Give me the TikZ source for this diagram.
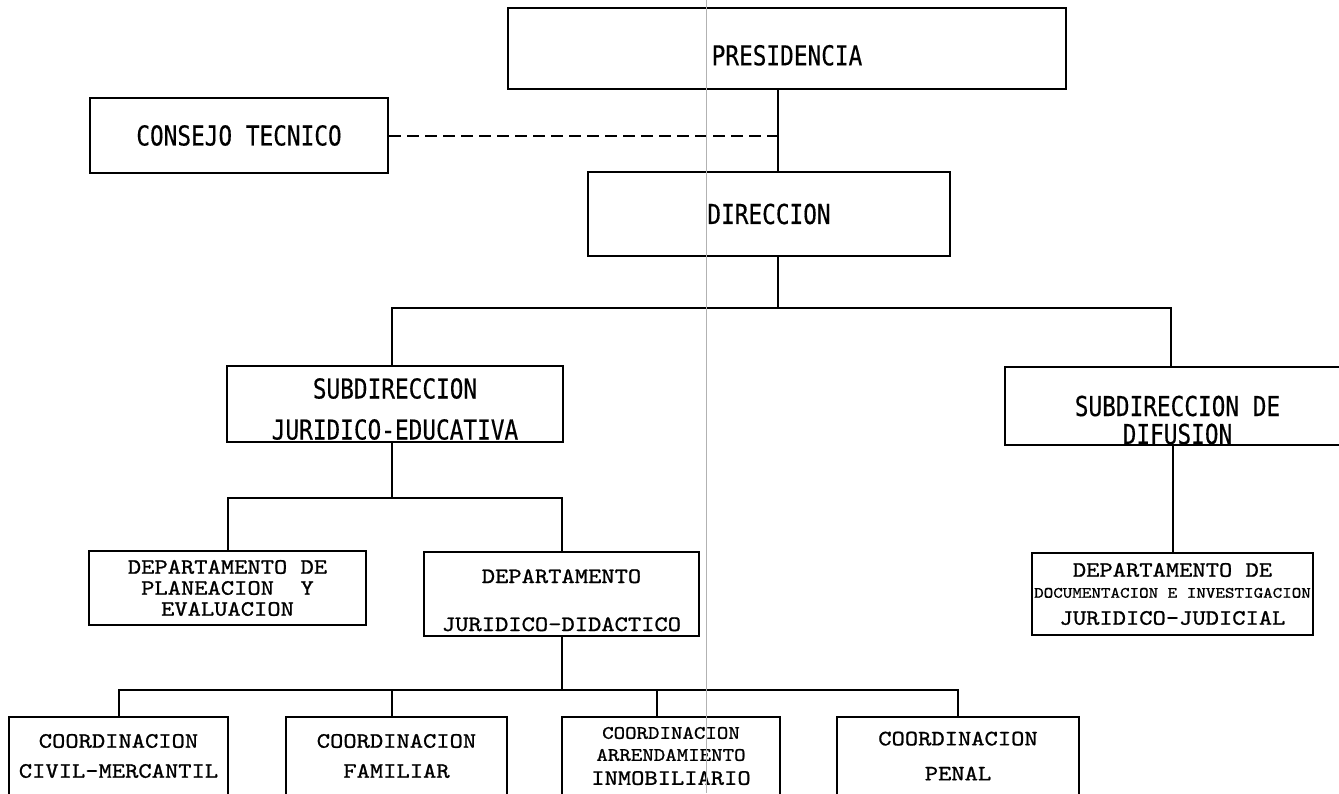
\documentclass[tikz,border=0pt]{standalone}
\usepackage{fontspec}
\usetikzlibrary{positioning, calc}
\newfontfamily\typeup[FakeStretch=0.83, FakeBold=0.4]{DejaVu Sans Mono}
\newfontfamily\typelow{lmmono10-regular.otf}[FakeStretch=1.15, FakeBold=1]

\begin{document}
\begin{tikzpicture}[x=0.5pt,y=-0.5pt,
  upbox/.style={draw, line width=1.2pt, rectangle, inner sep=0pt, align=center,
    font=\typeup\fontsize{13.7}{20}\selectfont},
  lowbox/.style={draw, line width=1.1pt, rectangle, inner sep=0pt, align=center,
    font=\typelow\fontsize{11}{10.5}\selectfont},
  link/.style={line width=1pt},
  fold/.style={gray!60, line width=0.4pt}]
  \useasboundingbox (0,0) rectangle (1339,793);

  % top
  \node[upbox, minimum width=279pt, minimum height=40.5pt, text height=17pt] (pres) at (787,48.5) {PRESIDENCIA};
  \node[upbox, minimum width=149pt, minimum height=37.5pt] (cons) at (239,135.5) {CONSEJO TECNICO};
  \node[upbox, minimum width=181pt, minimum height=42pt] (dir) at (769,214) {DIRECCION};

  % subdirecciones
  \node[upbox, minimum width=168pt, minimum height=38pt, text height=35.5pt, text depth=0pt,
    font=\typeup\fontsize{13.7}{20.5}\selectfont] (sje) at (395,404) {SUBDIRECCION\\JURIDICO-EDUCATIVA};
  \node[upbox, minimum width=172.5pt, minimum height=39pt, text height=38pt, text depth=0pt,
    font=\typeup\fontsize{13.7}{14}\selectfont] (sdd) at (1177.5,406) {SUBDIRECCION DE\\DIFUSION};

  % departamentos
  \node[lowbox, minimum width=138.5pt, minimum height=37pt] (dpe) at (227.5,588) {DEPARTAMENTO DE\\PLANEACION\ \ Y\\EVALUACION};
  \node[lowbox, minimum width=137.5pt, minimum height=42pt, text height=37pt, text depth=0pt] (djd) at (561.5,594)
    {DEPARTAMENTO\\[13.5pt]JURIDICO-DIDACTICO};
  \node[lowbox, minimum width=140.5pt, minimum height=41pt] (ddi) at (1172.5,594)
    {DEPARTAMENTO DE\\{\fontsize{7.9}{10}\selectfont DOCUMENTACION E INVESTIGACION}\\[3pt]JURIDICO-JUDICIAL};

  % coordinaciones
  \node[lowbox, minimum width=109.5pt, minimum height=39pt] (ccm) at (118.5,756) {COORDINACION\\[4.5pt]CIVIL-MERCANTIL};
  \node[lowbox, minimum width=110.5pt, minimum height=39pt] (cf) at (396.5,756) {COORDINACION\\[4.5pt]FAMILIAR};
  \node[lowbox, minimum width=109pt, minimum height=39pt,
    font=\typelow\fontsize{9.5}{11}\selectfont] (cai) at (671,756) {COORDINACION\\ARRENDAMIENTO\\[1pt]{\fontsize{11}{11}\selectfont INMOBILIARIO}};
  \node[lowbox, minimum width=121pt, minimum height=39pt] (cp) at (958,756) {COORDINACION\\[7pt]PENAL};

  \coordinate (spine) at (778,0);
  \coordinate (bar1) at (778,308);
  \coordinate (bar2) at (392,498);
  \coordinate (bar3) at (561,690);
  \coordinate (sddtop) at ([xshift=-3.25pt]sdd.north);
  \coordinate (sjetop) at ([xshift=-1.5pt]sje.north);
  \coordinate (sjebot) at ([xshift=-1.5pt]sje.south);
  \coordinate (cftop) at ([xshift=-2.25pt]cf.north);
  \coordinate (caitop) at ([xshift=-7pt]cai.north);

  \path[link]
    (pres.south -| spine) edge (dir.north -| spine)
    (dir.south -| spine) edge (bar1)
    (sjebot) edge (sjebot |- bar2)
    (ddi.north) edge (ddi.north |- sdd.south)
    (djd.south) edge (djd.south |- bar3)
    (cftop) edge (cftop |- bar3)
    (caitop) edge (caitop |- bar3);
  \draw[link, dashed, dash pattern=on 6pt off 3pt] (cons.east) -- (cons.east -| spine);
  \draw[link] (sjetop) |- (bar1) -| (sddtop);
  \draw[link] (dpe.north) |- (bar2) -| (djd.north);
  \draw[link] (ccm.north) |- (bar3) -| (cp.north);

  % fold of the scanned sheet
  \draw[fold] (706,0) -- (706,793);
\end{tikzpicture}
\end{document}
